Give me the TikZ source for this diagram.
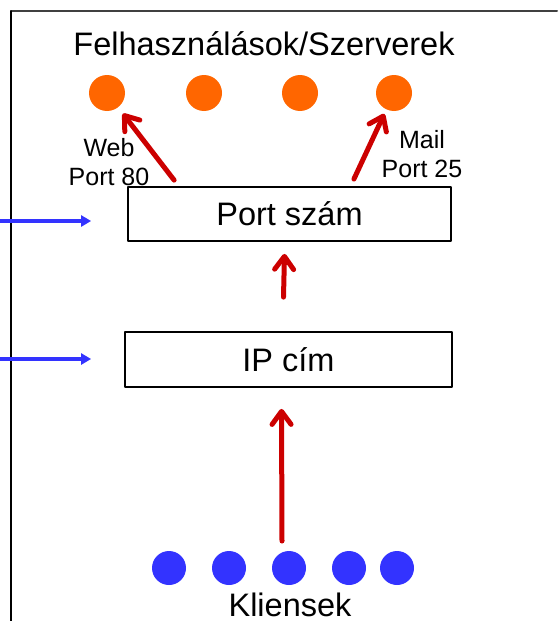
\documentclass[tikz,border=0pt]{standalone}
\usepackage{fontspec}
\setmainfont{Liberation Sans}
\usetikzlibrary{arrows.meta}
\definecolor{srvorange}{RGB}{255,102,0}
\definecolor{clblue}{RGB}{51,51,255}
\definecolor{arrred}{RGB}{204,0,0}

\begin{document}
\begin{tikzpicture}[line cap=round,line join=round,x=1pt,y=-1pt,
  server/.style={circle,fill=srvorange,minimum size=36pt,inner sep=0pt,outer sep=0pt},
  client/.style={circle,fill=clblue,minimum size=34pt,inner sep=0pt,outer sep=0pt},
  layer/.style={draw,line width=1.8pt,minimum width=323pt,minimum height=54pt,font=\fontsize{32.5}{39}\selectfont},
  redarrow/.style={draw=arrred,line width=5pt,-{Straight Barb[length=13pt,width=19pt,round]}},
  bluearrow/.style={draw=clblue,line width=3.5pt,line cap=butt,-{Triangle[length=10pt,width=11pt]}},
  big/.style={font=\fontsize{32.5}{39}\selectfont},
  small/.style={font=\fontsize{25}{29}\selectfont,align=center}]

\useasboundingbox (0,0) rectangle (558,621);
% frame
\draw [line width=2pt,black!75] (11,11)-- (557,11);
\draw [line width=1.5pt] (11,11)-- (11,621);

\node[big] (title) at (264,44) {Felhasználások/Szerverek};
\node[server] (s1) at (107,93) {};
\node[server] (s2) at (204,93) {};
\node[server] (s3) at (300,93) {};
\node[server] (s4) at (394,93) {};

\node[small] (web) at (109,162) {Web\\Port 80};
\node[small] (mail) at (422,154) {Mail\\Port 25};

\node[layer] (port) at (289.5,214) {Port szám};
\node[layer,minimum width=327pt,minimum height=55pt] (ip) at (288.5,359.5) {IP cím};

\node[client] (c1) at (169,568) {};
\node[client] (c2) at (229,568) {};
\node[client] (c3) at (289,568) {};
\node[client] (c4) at (349,568) {};
\node[client] (c5) at (397,568) {};
\node[big] (kliens) at (290,605) {Kliensek};

% red arrows
\draw [redarrow,shorten >=8pt] ([xshift=47pt,yshift=6pt]port.north west)-- (s1);
\draw [redarrow,shorten >=5pt] ([xshift=-98pt,yshift=7pt]port.north east)-- (s4);
\draw [redarrow] ([xshift=-5pt,yshift=34pt]ip.north)-- ([xshift=-5pt,yshift=-12pt]port.south);
\draw [redarrow] ([xshift=-7pt,yshift=10pt]c3.north)-- ([xshift=-7pt,yshift=-21pt]ip.south);

% blue arrows
\coordinate (portfeed) at (0,221);
\coordinate (ipfeed) at (0,359);
\draw [bluearrow] (portfeed)-- ([xshift=-36pt]port.west |- portfeed);
\draw [bluearrow] (ipfeed)-- ([xshift=-33pt]ip.west |- ipfeed);
\end{tikzpicture}
\end{document}
